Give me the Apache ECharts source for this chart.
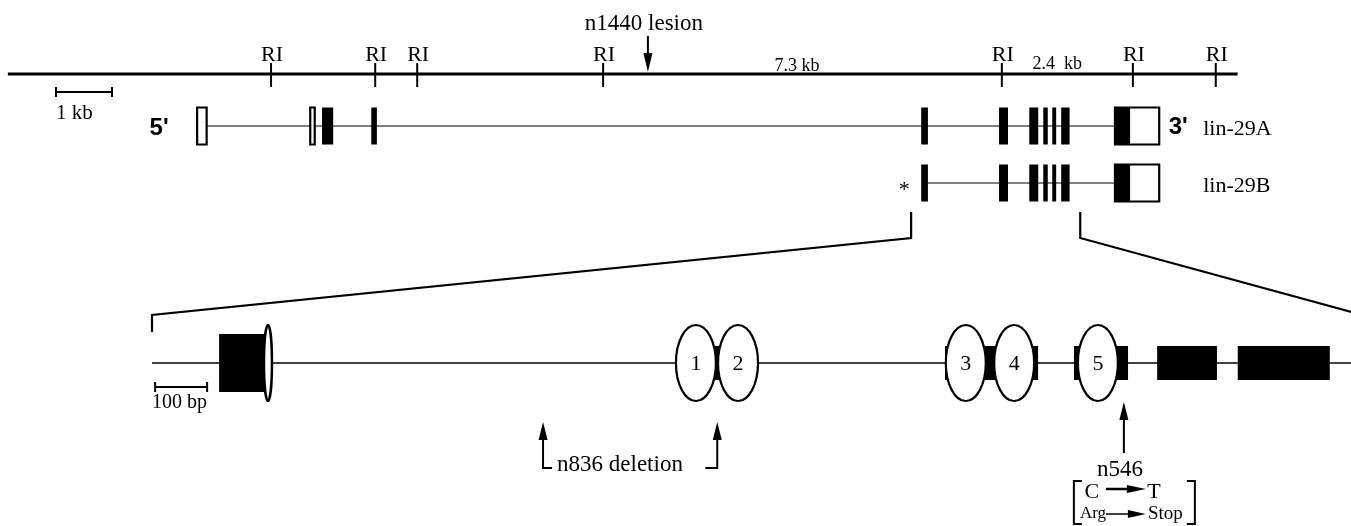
<!DOCTYPE html>
<html>
<head>
<meta charset="utf-8">
<script src="https://cdn.jsdelivr.net/npm/echarts@6/dist/echarts.min.js"></script>
<style>
  html, body { margin: 0; padding: 0; background: #fff; }
  #chart { width: 1351px; height: 526px; }
</style>
</head>
<body>
<div id="chart"></div>
<script>
// ---- genomic map (kb) ----
const mapSpanKb = [0.14, 22.1]
const riSitesKb = [4.84, 6.70, 7.45, 10.77, 17.89, 20.23, 21.71]
const lesionKb = 11.57
const distLabels = ['7.3 kb', '2.4  kb']
const distLabelKb = [14.23, 18.88]
const scaleBarKb = [1.0, 2.0]
// exons: [start, end, filled]
const exons5Kb = [[3.52, 3.69, 0], [5.54, 5.62, 0], [5.75, 5.95, 1], [6.63, 6.73, 1]]
const exons3Kb = [[16.45, 16.57, 1], [17.84, 18.0, 1], [18.38, 18.54, 1], [18.63, 18.71, 1],
                  [18.79, 18.86, 1], [18.95, 19.10, 1], [19.91, 20.70, 0], [19.91, 20.18, 1]]
const isoforms = ['lin-29A', 'lin-29B']
const zoomSpanKb = [16.27, 19.29]

// ---- zoomed region (bp) ----
const zoomSpanBp = [0, 2327]
const scaleBarBp = [6, 106]
const firstExonBp = [129, 217]
const exonBlocksBp = [[1080, 1162], [1525, 1704], [1773, 1877], [1933, 2048], [2088, 2265]]
const partialFingerBp = 223
const fingersBp = [1046, 1127, 1565, 1658, 1819]
const fingerLabels = ['1', '2', '3', '4', '5']
const deletionBp = [752, 1087]
const n546Bp = 1869

// ---- layout / style ----
const KB_PX = 56, BP_PX = 0.52, ZOOM_LEFT = 152
const Y = {
  lesionText: 24, lesionArrow: [36, 72], riText: 55, map: 74, tick: [63, 87], dist: 66,
  scaleBar: 92, scaleText: 113, rows: [126, 183], exonH: 37,
  zoomTick: [212, 238], zoomFoot: 315, zoomFootEnd: 332,
  bp: 363, bpScale: 387, bpScaleText: 403, tallH: 58, blockH: 34, fingerRy: 38,
  delTip: 422, delFoot: 468, delText: 465,
  mutTip: 402, mutTail: 453, mutText: 470, codon: 492, aa: 514, brk: [481, 524]
}
const SERIF = '"Liberation Serif", "Times New Roman", serif'
const SANS = '"Liberation Sans", Arial, sans-serif'
const ink = '#000'

function txt(x, y, s, font, opts) {
  return { type: 'text', style: Object.assign({ text: s, x: x, y: y, font: font, fill: ink, align: 'center', verticalAlign: 'middle' }, opts || {}) }
}
function seg(x1, y1, x2, y2, w) {
  return { type: 'line', shape: { x1: x1, y1: y1, x2: x2, y2: y2 }, style: { stroke: ink, lineWidth: w || 1 } }
}
function head(x, y, dir, len, half) {
  let pts
  if (dir === 'down') pts = [[x, y], [x - half, y - len], [x + half, y - len]]
  else if (dir === 'up') pts = [[x, y], [x - half, y + len], [x + half, y + len]]
  else pts = [[x, y], [x - len, y - half], [x - len, y + half]]
  return { type: 'polygon', shape: { points: pts }, style: { fill: ink } }
}
function custom(axis, data, render, z) {
  return { type: 'custom', coordinateSystem: 'cartesian2d', xAxisIndex: axis, yAxisIndex: axis,
           data: data, renderItem: render, silent: true, z: z || 2 }
}

const chart = echarts.init(document.getElementById('chart'))

const series = [
  // map line
  custom(0, [mapSpanKb], (p, api) => {
    const a = api.coord([api.value(0), Y.map]), b = api.coord([api.value(1), Y.map])
    return seg(a[0], a[1], b[0], b[1], 3)
  }),
  // EcoRI sites
  custom(0, riSitesKb.map(v => [v]), (p, api) => {
    const x = api.coord([api.value(0), Y.map])[0]
    return { type: 'group', children: [
      seg(x, Y.tick[0], x, Y.tick[1], 2),
      txt(x + 1, Y.riText, 'RI', '22px ' + SERIF)
    ] }
  }),
  // n1440 lesion
  custom(0, [[lesionKb]], (p, api) => {
    const x = api.coord([api.value(0), Y.map])[0]
    return { type: 'group', children: [
      seg(x, Y.lesionArrow[0], x, Y.lesionArrow[1] - 12, 2),
      head(x, Y.lesionArrow[1], 'down', 19, 4.5),
      txt(x - 4, Y.lesionText, 'n1440 lesion', '23px ' + SERIF)
    ] }
  }),
  // distance labels
  custom(0, distLabelKb.map(v => [v]), (p, api) => {
    const x = api.coord([api.value(0), Y.dist])[0]
    return txt(x, Y.dist - 2 * p.dataIndex, distLabels[p.dataIndex], '18px ' + SERIF)
  }),
  // 1 kb scale bar
  custom(0, [scaleBarKb], (p, api) => {
    const a = api.coord([api.value(0), Y.scaleBar])[0], b = api.coord([api.value(1), Y.scaleBar])[0]
    return { type: 'group', children: [
      seg(a, Y.scaleBar, b, Y.scaleBar, 2),
      seg(a, Y.scaleBar - 5, a, Y.scaleBar + 5, 2),
      seg(b, Y.scaleBar - 5, b, Y.scaleBar + 5, 2),
      txt(a, Y.scaleText, '1 kb', '21px ' + SERIF, { align: 'left' })
    ] }
  }),
  // transcripts
  custom(0, isoforms.map((s, i) => [i]), (p, api) => {
    const row = p.dataIndex
    const y = Y.rows[row]
    const list = row === 0 ? exons5Kb.concat(exons3Kb) : exons3Kb
    const X = v => api.coord([v, y])[0]
    const first = list[0]
    const last = list[list.length - 1]
    const end = Math.max.apply(null, list.map(e => e[1]))
    const children = [seg(X(first[1]), y, X(last[0]), y, 1.2)]
    list.forEach(e => {
      const x0 = X(e[0]), x1 = X(e[1])
      children.push({ type: 'rect', shape: { x: x0, y: y - Y.exonH / 2, width: x1 - x0, height: Y.exonH },
        style: e[2] ? { fill: ink } : { fill: '#fff', stroke: ink, lineWidth: 2.2 } })
    })
    if (row === 0) {
      children.push(txt(X(first[0]) - 38, y + 2, "5'", 'bold 24px ' + SANS))
      children.push(txt(X(end) + 19, y + 1, "3'", 'bold 24px ' + SANS))
    } else {
      children.push(txt(X(first[0]) - 17, y + 7, '*', '22px ' + SERIF))
    }
    children.push(txt(X(end) + 44, y + 3, isoforms[row], '22px ' + SERIF, { align: 'left' }))
    return { type: 'group', children: children }
  }),

  // ---- zoomed region ----
  custom(1, [zoomSpanBp], (p, api) => {
    const a = api.coord([api.value(0), Y.bp]), b = api.coord([api.value(1), Y.bp])
    return seg(a[0], a[1], b[0], b[1], 1.4)
  }, 1),
  custom(1, [scaleBarBp], (p, api) => {
    const a = api.coord([api.value(0), Y.bpScale])[0], b = api.coord([api.value(1), Y.bpScale])[0]
    return { type: 'group', children: [
      seg(a, Y.bpScale, b, Y.bpScale, 2),
      seg(a, Y.bpScale - 5, a, Y.bpScale + 5, 2),
      seg(b, Y.bpScale - 5, b, Y.bpScale + 5, 2),
      txt(a - 3, Y.bpScaleText, '100 bp', '20px ' + SERIF, { align: 'left' })
    ] }
  }),
  custom(1, [firstExonBp], (p, api) => {
    const a = api.coord([api.value(0), Y.bp]), b = api.coord([api.value(1), Y.bp])
    return { type: 'rect', shape: { x: a[0], y: a[1] - Y.tallH / 2, width: b[0] - a[0], height: Y.tallH }, style: { fill: ink } }
  }, 2),
  custom(1, exonBlocksBp, (p, api) => {
    const a = api.coord([api.value(0), Y.bp]), b = api.coord([api.value(1), Y.bp])
    return { type: 'rect', shape: { x: a[0], y: a[1] - Y.blockH / 2, width: b[0] - a[0], height: Y.blockH }, style: { fill: ink } }
  }, 2),
  custom(1, [[partialFingerBp]], (p, api) => {
    const c = api.coord([api.value(0), Y.bp])
    return { type: 'ellipse', shape: { cx: c[0], cy: c[1], rx: 4, ry: Y.fingerRy }, style: { fill: '#fff', stroke: ink, lineWidth: 2.5 } }
  }, 3),
  custom(1, fingersBp.map(v => [v]), (p, api) => {
    const c = api.coord([api.value(0), Y.bp])
    return { type: 'group', children: [
      { type: 'ellipse', shape: { cx: c[0], cy: c[1], rx: 20, ry: Y.fingerRy }, style: { fill: '#fff', stroke: ink, lineWidth: 2.2 } },
      txt(c[0], c[1] + 1, fingerLabels[p.dataIndex], '22px ' + SERIF)
    ] }
  }, 3),
  // n836 deletion
  custom(1, [deletionBp], (p, api) => {
    const a = api.coord([api.value(0), Y.bp])[0], b = api.coord([api.value(1), Y.bp])[0]
    const st = { stroke: ink, lineWidth: 2, fill: null }
    return { type: 'group', children: [
      head(a, Y.delTip, 'up', 18, 4.5),
      { type: 'polyline', shape: { points: [[a, Y.delTip + 12], [a, Y.delFoot], [a + 9, Y.delFoot]] }, style: st },
      txt(a + 14, Y.delText, 'n836 deletion', '23px ' + SERIF, { align: 'left' }),
      head(b, Y.delTip, 'up', 18, 4.5),
      { type: 'polyline', shape: { points: [[b - 12, Y.delFoot], [b, Y.delFoot], [b, Y.delTip + 12]] }, style: st }
    ] }
  }, 4),
  // n546 point mutation
  custom(1, [[n546Bp]], (p, api) => {
    const x = api.coord([api.value(0), Y.bp])[0]
    const br = { stroke: ink, lineWidth: 2, fill: null }
    return { type: 'group', children: [
      head(x, Y.mutTip, 'up', 18, 4.5),
      seg(x, Y.mutTip + 12, x, Y.mutTail, 2),
      txt(x - 4, Y.mutText, 'n546', '23px ' + SERIF),
      { type: 'polyline', shape: { points: [[x - 42, Y.brk[0]], [x - 50, Y.brk[0]], [x - 50, Y.brk[1]], [x - 42, Y.brk[1]]] }, style: br },
      { type: 'polyline', shape: { points: [[x + 63, Y.brk[0]], [x + 71, Y.brk[0]], [x + 71, Y.brk[1]], [x + 63, Y.brk[1]]] }, style: br },
      txt(x - 32, Y.codon, 'C', '22px ' + SERIF),
      seg(x - 18, Y.codon - 3, x + 5, Y.codon - 3, 2.5),
      head(x + 22, Y.codon - 3, 'right', 19, 4),
      txt(x + 30, Y.codon, 'T', '22px ' + SERIF),
      txt(x - 44, Y.aa, 'Arg', '17px ' + SERIF, { align: 'left' }),
      seg(x - 18, Y.aa, x + 5, Y.aa, 1.5),
      head(x + 22, Y.aa, 'right', 18, 4),
      txt(x + 24, Y.aa, 'Stop', '19px ' + SERIF, { align: 'left' })
    ] }
  }, 4)
]

chart.setOption({
  animation: false,
  backgroundColor: '#fff',
  grid: [
    { left: 0, right: 0, top: 0, bottom: 0 },
    { left: ZOOM_LEFT, right: 0, top: 0, bottom: 0 }
  ],
  xAxis: [
    { type: 'value', gridIndex: 0, min: 0, max: 1351 / KB_PX, show: false },
    { type: 'value', gridIndex: 1, min: 0, max: (1351 - ZOOM_LEFT) / BP_PX, show: false }
  ],
  yAxis: [
    { type: 'value', gridIndex: 0, min: 0, max: 526, inverse: true, show: false },
    { type: 'value', gridIndex: 1, min: 0, max: 526, inverse: true, show: false }
  ],
  series: series
})

// zoom connectors between genomic map and the bp-scaled region
const K = v => chart.convertToPixel({ xAxisIndex: 0, yAxisIndex: 0 }, v)
const Bp = v => chart.convertToPixel({ xAxisIndex: 1, yAxisIndex: 1 }, v)
const kl0 = K([zoomSpanKb[0], Y.zoomTick[0]]), kl1 = K([zoomSpanKb[0], Y.zoomTick[1]])
const kr0 = K([zoomSpanKb[1], Y.zoomTick[0]]), kr1 = K([zoomSpanKb[1], Y.zoomTick[1]])
const bl = Bp([zoomSpanBp[0], Y.zoomFoot]), br = Bp([zoomSpanBp[1], Y.zoomFoot])
chart.setOption({
  graphic: [
    { type: 'polyline', silent: true, shape: { points: [kl0, kl1, bl, [bl[0], Y.zoomFootEnd]] }, style: { stroke: ink, lineWidth: 2.2, fill: null } },
    { type: 'polyline', silent: true, shape: { points: [kr0, kr1, br] }, style: { stroke: ink, lineWidth: 2.2, fill: null } }
  ]
})
</script>
</body>
</html>
